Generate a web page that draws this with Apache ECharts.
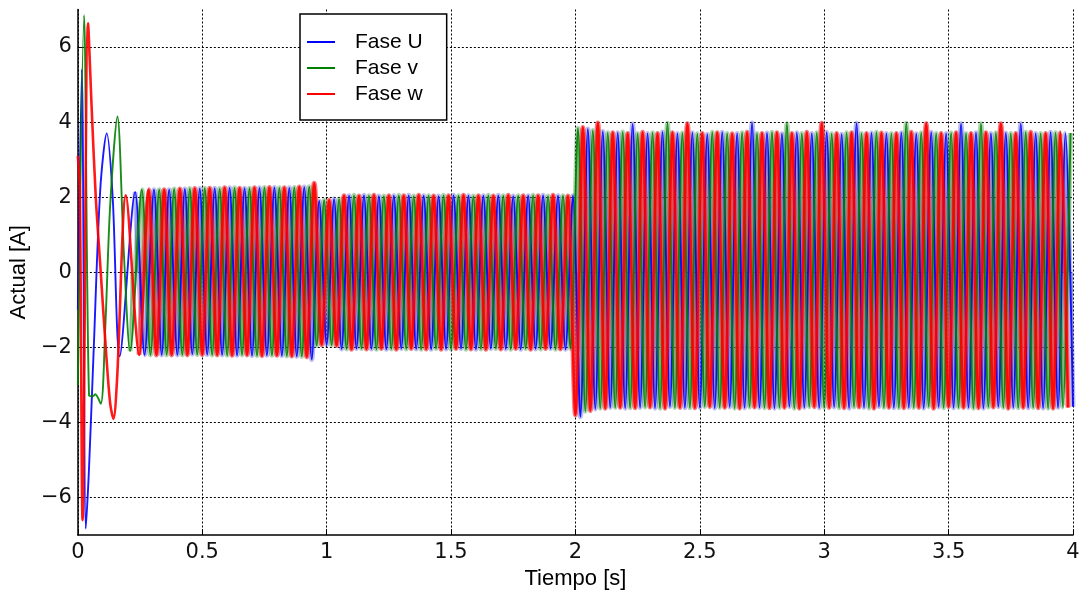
<!DOCTYPE html>
<html>
<head>
<meta charset="utf-8">
<title>Actual [A]</title>
<script src="https://cdn.jsdelivr.net/npm/echarts@6.0.0/dist/echarts.min.js"></script>
<style>
  html, body { margin: 0; padding: 0; background: #fff; }
  #chart { width: 1089px; height: 595px; }
</style>
</head>
<body>
<div id="chart"></div>
<script>
/* ========================================
   Corrientes de fase U, v, w  (peaks)
   ======================================== */

const seriesNames = ['Fase U', 'Fase v', 'Fase w'];
const xTicks = [0, 0.5, 1, 1.5, 2, 2.5, 3, 3.5, 4];
const yTicks = [-6, -4, -2, 0, 2, 4, 6];
const arranqueFin = 0.2; // end of the start-up transient [s]

// [tiempo s, corriente A]
const faseU = [
  [0,-1.0],[0.016,5.4],[0.032,-6.83],[0.045,-5.2],[0.064,-2.0],[0.09,2.2],[0.116,3.7],[0.14,2.0],[0.168,-2.24],[0.23,2.14],
  [0.268,-2.2],[0.306,2.2],[0.337,-2.2],[0.367,2.2],
  [0.40,-2.2],[0.43,2.22],[0.46,-2.18],[0.49,2.23],[0.52,-2.19],[0.55,2.24],[0.58,-2.2],[0.61,2.25],[0.64,-2.21],[0.67,2.24],
  [0.70,-2.22],[0.73,2.25],[0.76,-2.21],[0.79,2.26],[0.82,-2.22],[0.85,2.25],[0.88,-2.24],[0.91,2.27],[0.94,-2.32],[0.97,1.9],
  [1.00,-1.93],[1.03,1.95],[1.06,-2.04],[1.09,2.04],[1.12,-2.03],[1.15,2.05],[1.18,-2.04],[1.21,2.03],[1.24,-2.05],[1.27,2.04],
  [1.30,-2.03],[1.33,2.05],[1.36,-2.04],[1.39,2.04],[1.42,-2.05],[1.45,2.03],[1.48,-2.04],[1.51,2.05],[1.54,-2.03],[1.57,2.04],
  [1.60,-2.05],[1.63,2.04],[1.66,-2.03],[1.69,2.05],[1.72,-2.04],[1.75,2.03],[1.78,-2.05],[1.81,2.04],[1.84,-2.04],[1.87,2.05],
  [1.90,-2.03],[1.93,2.04],[1.96,-2.05],[1.99,2.04],[2.02,-3.85],[2.05,3.82],[2.08,-3.64],[2.11,3.75],[2.14,-3.6],[2.17,3.72],
  [2.20,-3.62],[2.23,3.95],[2.26,-3.6],[2.29,3.7],[2.32,-3.62],[2.35,3.74],[2.38,-3.58],[2.41,3.7],[2.44,-3.61],[2.47,3.72],
  [2.50,-3.6],[2.53,3.68],[2.56,-3.62],[2.59,3.73],[2.62,-3.59],[2.65,3.7],[2.68,-3.61],[2.71,3.98],[2.74,-3.6],[2.77,3.71],
  [2.80,-3.62],[2.83,3.69],[2.86,-3.58],[2.89,3.72],[2.92,-3.6],[2.95,3.7],[2.98,-3.61],[3.01,3.73],[3.04,-3.59],[3.07,3.68],
  [3.10,-3.62],[3.13,3.97],[3.16,-3.6],[3.19,3.71],[3.22,-3.58],[3.25,3.7],[3.28,-3.61],[3.31,3.72],[3.34,-3.6],[3.37,3.69],
  [3.40,-3.62],[3.43,3.73],[3.46,-3.59],[3.49,3.7],[3.52,-3.61],[3.55,3.96],[3.58,-3.6],[3.61,3.72],[3.64,-3.62],[3.67,3.7],
  [3.70,-3.58],[3.73,3.71],[3.76,-3.6],[3.79,3.96],[3.82,-3.61],[3.85,3.7],[3.88,-3.62],[3.91,3.73],[3.94,-3.6],[3.97,3.7],
  [4.00,-3.58]
];

const faseV = [
  [0,-3.0],[0.025,6.85],[0.045,-3.28],[0.06,-3.3],[0.07,-3.25],[0.092,-3.5],[0.11,-1.5],[0.13,1.8],[0.159,4.15],[0.185,0.5],
  [0.21,-2.1],[0.257,2.2],[0.292,-2.2],[0.327,2.2],[0.357,-2.2],[0.387,2.22],
  [0.42,-2.2],[0.45,2.23],[0.48,-2.19],[0.51,2.24],[0.54,-2.2],[0.57,2.23],[0.60,-2.21],[0.63,2.25],[0.66,-2.2],[0.69,2.24],
  [0.72,-2.22],[0.75,2.26],[0.78,-2.21],[0.81,2.25],[0.84,-2.23],[0.87,2.26],[0.90,-2.24],[0.93,2.28],[0.96,-1.95],[0.99,1.92],
  [1.02,-1.94],[1.05,1.95],[1.08,-2.04],[1.11,2.05],[1.14,-2.03],[1.17,2.04],[1.20,-2.05],[1.23,2.03],[1.26,-2.04],[1.29,2.05],
  [1.32,-2.04],[1.35,2.03],[1.38,-2.05],[1.41,2.04],[1.44,-2.03],[1.47,2.05],[1.50,-2.04],[1.53,2.04],[1.56,-2.05],[1.59,2.03],
  [1.62,-2.04],[1.65,2.05],[1.68,-2.03],[1.71,2.04],[1.74,-2.05],[1.77,2.04],[1.80,-2.03],[1.83,2.05],[1.86,-2.04],[1.89,2.03],
  [1.92,-2.05],[1.95,2.04],[1.98,-2.03],[2.01,3.84],[2.04,-3.7],[2.07,3.78],[2.10,-3.62],[2.13,3.72],[2.16,-3.6],[2.19,3.74],
  [2.22,-3.61],[2.25,3.7],[2.28,-3.59],[2.31,3.72],[2.34,-3.62],[2.37,3.97],[2.40,-3.6],[2.43,3.71],[2.46,-3.61],[2.49,3.69],
  [2.52,-3.58],[2.55,3.73],[2.58,-3.6],[2.61,3.7],[2.64,-3.62],[2.67,3.72],[2.70,-3.59],[2.73,3.7],[2.76,-3.61],[2.79,3.73],
  [2.82,-3.6],[2.85,3.96],[2.88,-3.62],[2.91,3.7],[2.94,-3.58],[2.97,3.72],[3.00,-3.6],[3.03,3.69],[3.06,-3.61],[3.09,3.72],
  [3.12,-3.59],[3.15,3.7],[3.18,-3.62],[3.21,3.73],[3.24,-3.6],[3.27,3.7],[3.30,-3.61],[3.33,3.97],[3.36,-3.6],[3.39,3.72],
  [3.42,-3.58],[3.45,3.7],[3.48,-3.61],[3.51,3.71],[3.54,-3.6],[3.57,3.7],[3.60,-3.62],[3.63,3.96],[3.66,-3.59],[3.69,3.72],
  [3.72,-3.6],[3.75,3.7],[3.78,-3.61],[3.81,3.73],[3.84,-3.6],[3.87,3.7],[3.90,-3.62],[3.93,3.72],[3.96,-3.59],[3.99,3.71]
];

const faseW = [
  [0,3.1],[0.008,2.2],[0.019,-6.6],[0.041,6.63],[0.056,4.3],[0.072,2.0],[0.092,0],[0.112,-2.0],[0.13,-3.5],[0.143,-3.9],
  [0.158,-2.8],[0.193,2.05],[0.246,-2.2],[0.284,2.2],[0.316,-2.2],[0.347,2.2],[0.377,-2.2],
  [0.41,2.22],[0.44,-2.2],[0.47,2.23],[0.50,-2.19],[0.53,2.24],[0.56,-2.2],[0.59,2.25],[0.62,-2.21],[0.65,2.24],[0.68,-2.2],
  [0.71,2.25],[0.74,-2.22],[0.77,2.26],[0.80,-2.21],[0.83,2.25],[0.86,-2.23],[0.89,2.27],[0.92,-2.25],[0.95,2.37],[0.98,-1.93],
  [1.01,1.92],[1.04,-1.95],[1.07,2.04],[1.10,-2.05],[1.13,2.03],[1.16,-2.04],[1.19,2.05],[1.22,-2.03],[1.25,2.04],[1.28,-2.05],
  [1.31,2.04],[1.34,-2.03],[1.37,2.05],[1.40,-2.04],[1.43,2.03],[1.46,-2.05],[1.49,2.04],[1.52,-2.03],[1.55,2.05],[1.58,-2.04],
  [1.61,2.04],[1.64,-2.05],[1.67,2.03],[1.70,-2.04],[1.73,2.05],[1.76,-2.03],[1.79,2.04],[1.82,-2.05],[1.85,2.04],[1.88,-2.03],
  [1.91,2.05],[1.94,-2.04],[1.97,2.03],[2.00,-3.8],[2.03,3.86],[2.06,-3.68],[2.09,3.98],[2.12,-3.62],[2.15,3.72],[2.18,-3.6],
  [2.21,3.7],[2.24,-3.61],[2.27,3.73],[2.30,-3.59],[2.33,3.7],[2.36,-3.62],[2.39,3.72],[2.42,-3.6],[2.45,3.96],[2.48,-3.61],
  [2.51,3.7],[2.54,-3.58],[2.57,3.72],[2.60,-3.6],[2.63,3.69],[2.66,-3.62],[2.69,3.73],[2.72,-3.59],[2.75,3.7],[2.78,-3.61],
  [2.81,3.72],[2.84,-3.6],[2.87,3.7],[2.90,-3.62],[2.93,3.73],[2.96,-3.58],[2.99,3.97],[3.02,-3.6],[3.05,3.7],[3.08,-3.61],
  [3.11,3.72],[3.14,-3.59],[3.17,3.7],[3.20,-3.62],[3.23,3.71],[3.26,-3.6],[3.29,3.7],[3.32,-3.61],[3.35,3.73],[3.38,-3.6],
  [3.41,3.96],[3.44,-3.62],[3.47,3.7],[3.50,-3.58],[3.53,3.72],[3.56,-3.6],[3.59,3.7],[3.62,-3.61],[3.65,3.72],[3.68,-3.59],
  [3.71,3.96],[3.74,-3.62],[3.77,3.7],[3.80,-3.6],[3.83,3.73],[3.86,-3.61],[3.89,3.7],[3.92,-3.62],[3.95,3.72],[3.98,-3.6]
];

const COLORS = { u: '#0000ff', v: '#008000', w: '#ff0000' };
const BAND = { u: 'rgba(90,90,220,0.4)', v: 'rgba(40,140,40,0.36)', w: 'rgba(240,60,70,0.68)' };
const LINE_W = { u: 1.9, v: 1.9, w: 2.6 };
const GRID_LINE = { color: '#000', width: 1, type: [2, 2] };

const chart = echarts.init(document.getElementById('chart'), null, { renderer: 'canvas' });

function phaseLine(name, data, color, width) {
  return {
    name: name,
    type: 'line',
    data: data,
    symbol: 'none',
    smooth: 0.3,
    z: 3,
    lineStyle: { color: color, width: width, opacity: 0.9 },
    itemStyle: { color: color },
    silent: true
  };
}

// the steady part is so dense in the original that the traces blend into a band;
// a wide pale stroke plus a fill to zero under the same trace reproduce that tint
function phaseBand(id, data, fill) {
  var start = data.findIndex(p => p[0] >= arranqueFin);
  return {
    id: id,
    name: id,
    type: 'line',
    data: data.slice(start),
    symbol: 'none',
    smooth: 0.3,
    z: 2,
    lineStyle: { width: 5, color: fill },
    itemStyle: { color: fill },
    areaStyle: { color: fill, opacity: 1, origin: 'auto' },
    silent: true
  };
}

const series = [
  phaseBand('bandaU', faseU, BAND.u),
  phaseBand('bandaV', faseV, BAND.v),
  phaseBand('bandaW', faseW, BAND.w),
  phaseLine(seriesNames[0], faseU, COLORS.u, LINE_W.u),
  phaseLine(seriesNames[1], faseV, COLORS.v, LINE_W.v),
  phaseLine(seriesNames[2], faseW, COLORS.w, LINE_W.w),
  {
    // dotted horizontal grid at the labelled values, under the curves
    id: 'rejilla',
    name: 'rejilla',
    type: 'line',
    data: [],
    z: 0,
    silent: true,
    markLine: {
      silent: true,
      symbol: 'none',
      z: 0,
      animation: false,
      label: { show: false },
      lineStyle: GRID_LINE,
      data: yTicks.map(v => ({ yAxis: v }))
    }
  }
];

const option = {
  animation: false,
  backgroundColor: '#fff',
  grid: { left: 77, right: 16, top: 9.5, bottom: 58.5, containLabel: false },
  legend: {
    data: seriesNames,
    orient: 'vertical',
    left: 300,
    top: 14,
    padding: [17, 24, 15, 7],
    icon: 'rect',
    itemWidth: 28,
    itemHeight: 2,
    itemGap: 4,
    backgroundColor: '#fff',
    borderColor: '#000',
    borderWidth: 1.5,
    borderRadius: 0,
    textStyle: {
      fontFamily: 'Liberation Sans',
      fontSize: 21,
      lineHeight: 22,
      color: '#000',
      padding: [0, 0, 0, 15]
    }
  },
  xAxis: {
    type: 'value',
    min: xTicks[0],
    max: xTicks[xTicks.length - 1],
    interval: 0.5,
    name: 'Tiempo [s]',
    nameLocation: 'middle',
    nameGap: 30,
    nameTextStyle: { fontFamily: 'Liberation Sans', fontSize: 22, color: '#000' },
    axisLine: { onZero: false, lineStyle: { color: '#000', width: 1.5 } },
    axisTick: { inside: true, length: 6, lineStyle: { color: '#000' } },
    axisLabel: { fontFamily: 'DejaVu Sans', fontSize: 21, color: '#111', margin: 7 },
    splitLine: { show: true, lineStyle: GRID_LINE }
  },
  yAxis: {
    type: 'value',
    min: -7,
    max: 7,
    name: 'Actual [A]',
    nameLocation: 'middle',
    nameGap: 44,
    nameTextStyle: { fontFamily: 'Liberation Sans', fontSize: 22, color: '#000' },
    axisLine: { onZero: false, lineStyle: { color: '#000', width: 1.5 } },
    axisTick: { inside: true, length: 6, customValues: yTicks, lineStyle: { color: '#000' } },
    axisLabel: {
      customValues: yTicks,
      fontFamily: 'DejaVu Sans',
      fontSize: 21,
      color: '#111',
      margin: 6,
      formatter: v => String(v).replace('-', '\u2212')
    },
    splitLine: { show: false }
  },
  series: series
};

chart.setOption(option);
</script>
</body>
</html>
